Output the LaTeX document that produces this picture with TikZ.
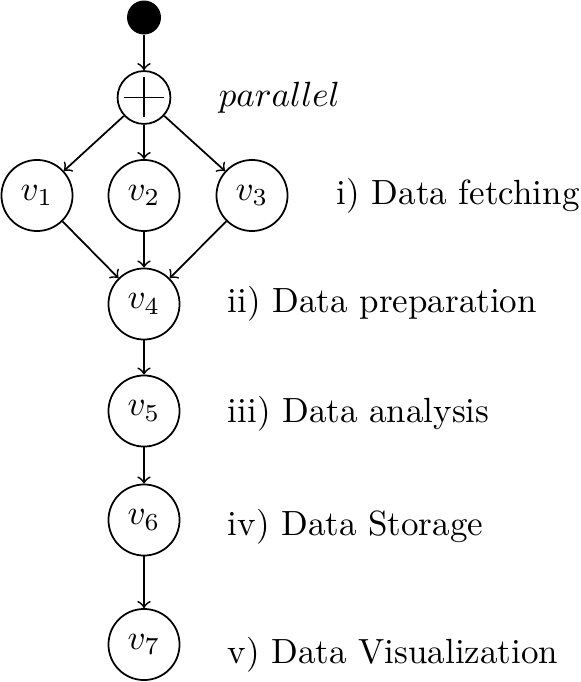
\documentclass[tikz,border=0pt]{standalone}
\begin{document}
\begin{tikzpicture}[x=0.2857pt,y=-0.2857pt,line width=0.5pt,
  vnode/.style={draw,circle,minimum size=20.3pt,inner sep=0pt},
  startnode/.style={fill=black,circle,minimum size=9.7pt,inner sep=0pt},
  parnode/.style={draw,circle,minimum size=15.1pt,inner sep=0pt},
  lbl/.style={anchor=base west,inner sep=0pt},
  edge/.style={->}]
\useasboundingbox (0,0) rectangle (580,682);
\node[startnode] (s) at (144,17.5) {};
\node[parnode] (p) at (144,97.5) {};
\draw (p.center) ++(-20,0) -- ++(40,0);
\draw (p.center) ++(0,-20) -- ++(0,40);
\node[vnode] (v1) at (37,195.5) {$v_1$};
\node[vnode] (v2) at (144,195.5) {$v_2$};
\node[vnode] (v3) at (252,195.5) {$v_3$};
\node[vnode] (v4) at (144,304) {$v_4$};
\node[vnode] (v5) at (144,411) {$v_5$};
\node[vnode] (v6) at (144,520) {$v_6$};
\node[vnode] (v7) at (144,644.5) {$v_7$};
\node[lbl] (lp) at (218,107) {$parallel$};
\node[lbl] (l1) at (336,205) {i) Data fetching};
\node[lbl] (l2) at (227,313) {ii) Data preparation};
\node[lbl] (l3) at (227,422) {iii) Data analysis};
\node[lbl] (l4) at (227,535) {iv) Data Storage};
\node[lbl] (l5) at (227,663) {v) Data Visualization};
\draw[edge] (s) -- (p);
\draw[edge] (p) -- (v1);
\draw[edge] (p) -- (v2);
\draw[edge] (p) -- (v3);
\draw[edge] (v1) -- (v4);
\draw[edge] (v2) -- (v4);
\draw[edge] (v3) -- (v4);
\draw[edge] (v4) -- (v5);
\draw[edge] (v5) -- (v6);
\draw[edge] (v6) -- (v7);
\end{tikzpicture}
\end{document}
